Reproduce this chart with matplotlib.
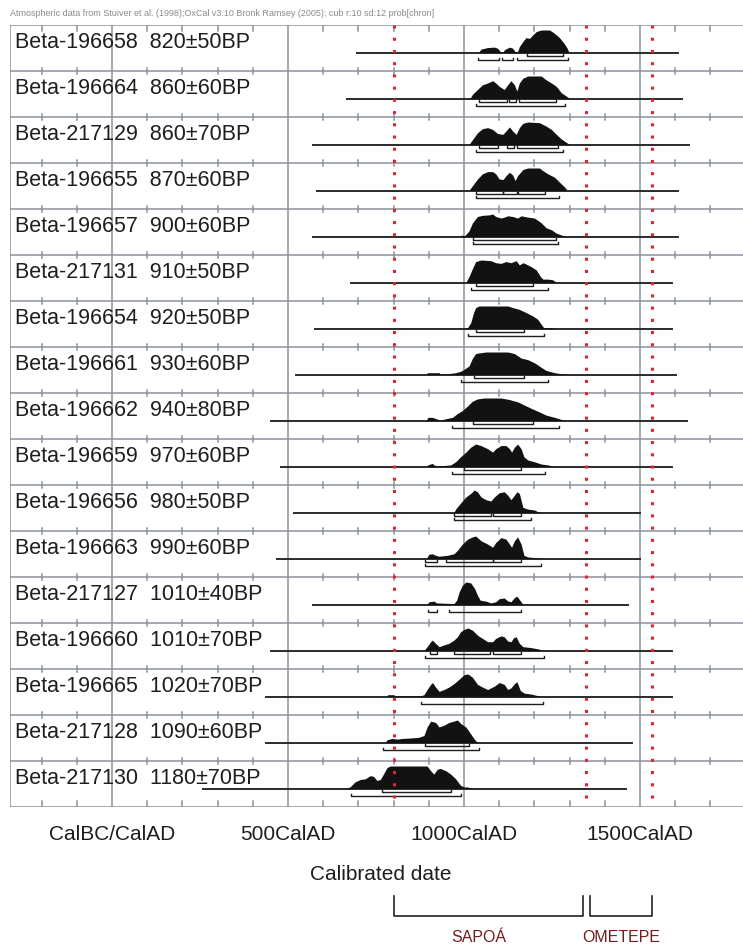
import numpy as np
import matplotlib.pyplot as plt
from matplotlib.transforms import blended_transform_factory

plt.rcParams['font.family'] = ['Liberation Sans', 'DejaVu Sans']

# sample labels
lab_ids = ["Beta-196658", "Beta-196664", "Beta-217129", "Beta-196655", "Beta-196657",
           "Beta-217131", "Beta-196654", "Beta-196661", "Beta-196662", "Beta-196659",
           "Beta-196656", "Beta-196663", "Beta-217127", "Beta-196660", "Beta-196665",
           "Beta-217128", "Beta-217130"]
bp_ages = ["820±50BP", "860±60BP", "860±70BP", "870±60BP", "900±60BP", "910±50BP",
           "920±50BP", "930±60BP", "940±80BP", "970±60BP", "980±50BP", "990±60BP",
           "1010±40BP", "1010±70BP", "1020±70BP", "1090±60BP", "1180±70BP"]

# extent of the thin line under each distribution (cal AD)
line_start = [696, 668, 571, 582, 571, 679, 577, 523, 452, 481, 517, 469, 571, 452, 438, 438, 258]
line_end = [1608, 1619, 1640, 1608, 1608, 1591, 1591, 1602, 1633, 1591, 1500, 1500, 1466, 1591, 1591, 1477, 1460]

# calibrated distributions (year, relative probability)
yr_1 = [1041, 1048, 1067, 1086, 1095, 1103, 1111, 1114, 1129, 1138, 1145, 1152, 1157, 1167, 1176, 1186, 1195, 1205, 1219, 1243, 1257, 1271, 1284, 1293, 1298]
p_1 = [0, .15, .22, .24, .19, .04, 0, .12, .24, .19, .04, .04, .26, .49, .66, .63, .78, .93, 1, 1, .85, .66, .41, .19, 0]
yr_2 = [1017, 1024, 1038, 1052, 1067, 1081, 1090, 1100, 1114, 1124, 1133, 1143, 1150, 1157, 1167, 1181, 1219, 1233, 1248, 1262, 1276, 1290, 1300]
p_2 = [0, .19, .4, .61, .69, .79, .69, .54, .4, .61, .79, .61, .33, .69, .9, 1, 1, .83, .69, .54, .26, .11, 0]
yr_3 = [1014, 1024, 1038, 1052, 1067, 1081, 1095, 1110, 1119, 1129, 1138, 1148, 1157, 1167, 1181, 1214, 1233, 1248, 1262, 1276, 1290, 1300]
p_3 = [0, .22, .52, .7, .75, .67, .49, .45, .6, .78, .6, .45, .75, .94, 1, .97, .82, .67, .45, .25, .1, 0]
yr_4 = [1014, 1024, 1038, 1052, 1067, 1081, 1090, 1100, 1111, 1119, 1129, 1138, 1145, 1152, 1167, 1181, 1214, 1224, 1238, 1257, 1271, 1286, 1293]
p_4 = [0, .22, .51, .74, .84, .84, .74, .51, .49, .66, .81, .69, .44, .66, .93, 1, 1, .88, .74, .59, .37, .15, 0]
yr_5 = [989, 992, 1002, 1014, 1024, 1038, 1052, 1071, 1081, 1090, 1105, 1114, 1124, 1138, 1152, 1162, 1181, 1200, 1219, 1233, 1248, 1262, 1276, 1290]
p_5 = [0, .06, .04, .25, .61, .89, .94, .96, 1, .89, .82, .86, .92, .89, .82, .92, .86, .82, .61, .39, .3, .15, .07, 0]
yr_6 = [1005, 1014, 1024, 1033, 1048, 1076, 1090, 1105, 1119, 1133, 1148, 1157, 1167, 1176, 1190, 1205, 1217, 1224, 1238, 1252, 1262]
p_6 = [0, .26, .63, .93, 1, .97, .88, .85, .93, .88, .97, .78, .88, .82, .71, .56, .26, .15, .15, .12, 0]
yr_7 = [992, 1010, 1019, 1027, 1033, 1043, 1124, 1138, 1157, 1176, 1195, 1209, 1219, 1226, 1238, 1267]
p_7 = [0, .04, .26, .71, .93, 1, 1, .93, .85, .71, .56, .41, .19, .04, .04, 0]
yr_8 = [894, 895, 929, 933, 952, 976, 990, 1002, 1014, 1024, 1033, 1043, 1062, 1100, 1124, 1143, 1162, 1181, 1200, 1219, 1233, 1257, 1290]
p_8 = [0, .08, .08, 0, .03, .08, .14, .25, .38, .73, .93, .96, 1, 1, 1, .93, .73, .66, .52, .32, .18, .08, 0]
yr_9 = [893, 897, 910, 924, 933, 943, 967, 981, 995, 1010, 1024, 1038, 1057, 1105, 1129, 1152, 1176, 1195, 1214, 1233, 1257, 1286]
p_9 = [0, .14, .14, .06, 0, .06, .14, .31, .44, .65, .86, .96, 1, 1, .93, .83, .65, .51, .38, .24, .14, 0]
yr_10 = [893, 897, 910, 914, 924, 933, 962, 976, 990, 1005, 1019, 1033, 1048, 1067, 1081, 1090, 1105, 1119, 1129, 1135, 1143, 1152, 1162, 1170, 1181, 1200, 1219, 1238, 1257]
p_10 = [0, .07, .14, .07, .03, .03, .07, .21, .43, .64, .86, 1, .93, .79, .64, .79, .93, .93, .79, .64, .86, 1, .79, .43, .29, .21, .11, .07, 0]
yr_11 = [971, 976, 990, 1005, 1019, 1029, 1038, 1048, 1062, 1076, 1086, 1100, 1114, 1124, 1133, 1143, 1150, 1157, 1167, 1181, 1200, 1214]
p_11 = [0, .15, .42, .69, .85, 1, .92, .69, .57, .51, .69, .88, .92, .77, .57, .77, .92, .85, .23, .15, .11, 0]
yr_12 = [893, 900, 910, 919, 929, 952, 971, 981, 995, 1010, 1024, 1033, 1048, 1067, 1081, 1090, 1105, 1119, 1129, 1135, 1143, 1152, 1162, 1170, 1181, 1200, 1219]
p_12 = [0, .19, .21, .14, .1, .14, .21, .36, .64, .86, .96, 1, .79, .64, .5, .71, .93, .86, .64, .5, .79, .96, .64, .14, .07, .04, 0]
yr_13 = [895, 900, 914, 922, 971, 979, 986, 995, 1005, 1019, 1030, 1038, 1046, 1062, 1076, 1090, 1100, 1114, 1124, 1133, 1143, 1150, 1160, 1167]
p_13 = [0, .12, .15, .07, .04, .19, .56, .85, 1, .96, .71, .41, .19, .15, .07, .12, .26, .29, .16, .12, .31, .37, .16, 0]
yr_14 = [886, 895, 905, 910, 919, 929, 943, 957, 971, 981, 990, 1000, 1011, 1024, 1038, 1052, 1067, 1081, 1090, 1105, 1114, 1124, 1133, 1141, 1148, 1157, 1167, 1190, 1214, 1219]
p_14 = [0, .17, .39, .46, .32, .17, .25, .32, .46, .61, .83, .94, 1, .9, .68, .54, .39, .39, .54, .65, .61, .42, .39, .57, .61, .32, .17, .13, .06, 0]
yr_15 = [781, 783, 800, 805, 876, 886, 895, 905, 910, 919, 929, 943, 957, 971, 986, 1000, 1011, 1024, 1038, 1052, 1067, 1086, 1100, 1114, 1124, 1133, 1143, 1150, 1160, 1171, 1190, 1219]
p_15 = [0, .08, .08, .03, .03, .08, .31, .54, .62, .42, .23, .31, .42, .57, .77, .97, 1, .85, .54, .42, .31, .46, .62, .54, .31, .38, .57, .66, .26, .15, .11, 0]
yr_16 = [776, 781, 795, 810, 824, 848, 871, 886, 895, 905, 919, 929, 943, 957, 971, 981, 990, 1005, 1019, 1029, 1038]
p_16 = [0, .12, .18, .15, .18, .2, .23, .31, .69, .95, .89, .69, .77, .89, .95, 1, .85, .69, .38, .15, 0]
yr_17 = [662, 676, 690, 705, 719, 733, 743, 752, 762, 771, 781, 790, 895, 905, 914, 924, 933, 948, 962, 976, 990, 1000, 1010, 1024]
p_17 = [0, .07, .29, .4, .43, .57, .54, .36, .4, .64, .93, 1, 1, .79, .64, .86, .89, .79, .64, .43, .14, .07, .07, 0]

# 68.2% and 95.4% ranges
sig68 = [[(1179, 1281)], [(1043, 1121), (1127, 1148), (1155, 1262)], [(1043, 1095), (1121, 1143), (1150, 1267)],
         [(1033, 1110), (1112, 1150), (1152, 1230)], [(1024, 1262)], [(1033, 1195)], [(1033, 1171)],
         [(1029, 1171)], [(1024, 1195)], [(1000, 1162)], [(971, 1076), (1081, 1162)],
         [(890, 924), (948, 1081), (1081, 1162)], [], [(902, 922), (971, 1074), (1083, 1162)], [],
         [(890, 1014)], [(767, 962)]]
sig95 = [[(1040, 1100), (1108, 1139), (1151, 1295)], [(1033, 1286)], [(1033, 1281)], [(1033, 1271)],
         [(1024, 1267)], [(1021, 1238)], [(1012, 1226)], [(992, 1238)], [(967, 1271)], [(967, 1229)],
         [(971, 1190)], [(890, 1219)], [(898, 922), (957, 1162)], [(890, 1227)], [(878, 1225)],
         [(770, 1041)], [(678, 992)]]

# phase boundaries and names
phase_lines = [800, 1345, 1535]
phases = ["SAPOÁ", "OMETEPE"]
phase_spans = [(800, 1338), (1358, 1534)]
phase_label_x = [1043, 1446]

curves = [(yr_1, p_1), (yr_2, p_2), (yr_3, p_3), (yr_4, p_4), (yr_5, p_5), (yr_6, p_6),
          (yr_7, p_7), (yr_8, p_8), (yr_9, p_9), (yr_10, p_10), (yr_11, p_11), (yr_12, p_12),
          (yr_13, p_13), (yr_14, p_14), (yr_15, p_15), (yr_16, p_16), (yr_17, p_17)]

W, H = 743, 948
fig = plt.figure(figsize=(W / 100, H / 100), dpi=100)
ax = fig.add_axes([10 / W, 1 - 807 / H, (752 - 10) / W, (807 - 25) / H])
n = len(lab_ids)
ax.set_xlim(-290, 1818)
ax.set_ylim(0, n)
rowpx = (807 - 25) / n
px = 1.0 / rowpx

grid = '#8a929a'
ink = '#1e1e1e'
for s in ax.spines.values():
    s.set_visible(False)

# frame, separators, major grid
for k in range(n + 1):
    ax.axhline(k, color=grid, lw=1.1, zorder=1)
ax.axvline(-290, color=grid, lw=1.1, zorder=1)
for x in [0, 500, 1000, 1500]:
    ax.axvline(x, color=grid, lw=1.1, zorder=1)
# minor ticks every 100 years
for x in range(-200, 1900, 100):
    if x % 500 == 0:
        continue
    for k in range(n + 1):
        lo, hi = k - 3 * px, k + 3 * px
        if k == 0:
            lo, hi = k, k + 6 * px
        if k == n:
            lo, hi = k - 6 * px, k
        ax.plot([x, x], [lo, hi], color=grid, lw=1.1, zorder=1)

# red phase boundaries
for x in phase_lines:
    ax.plot([x, x], [n, 0], color='#e3242f', lw=2.2, ls=(0, (1, 3)),
            dash_capstyle='butt', zorder=5)

# rows
for i in range(n):
    top = n - i
    base = top - 27.5 * px
    yrs, p = curves[i]
    ax.plot([line_start[i], line_end[i]], [base, base], color='#2a2a2a', lw=1.4, zorder=3)
    ax.fill_between(yrs, base, base + 22.5 * px * np.array(p), color='#121212', lw=0, zorder=4)
    for ranges, off in [(sig68[i], 3.5), (sig95[i], 7)]:
        yy = base - off * px
        for a, b in ranges:
            ax.plot([a, a, b, b], [yy + 2 * px, yy, yy, yy + 2 * px], color=ink, lw=1.0, zorder=4)
    ax.text(-276, top - 17 * px, lab_ids[i] + "  " + bp_ages[i], fontsize=15.5,
            va='center', ha='left', color=ink, zorder=6)

ax.set_yticks([])
ax.set_xticks([0, 500, 1000, 1500], ["CalBC/CalAD", "500CalAD", "1000CalAD", "1500CalAD"])
ax.tick_params(axis='x', length=0, pad=13, labelsize=15, labelcolor=ink)
ax.set_xlabel("Calibrated date", fontsize=15, color=ink, labelpad=15)

fig.text(10 / W, 1 - 13 / H,
         "Atmospheric data from Stuiver et al. (1998);OxCal v3.10 Bronk Ramsey (2005); cub r:10 sd:12 prob[chron]",
         fontsize=6.5, color='#8a8a8a', va='center', ha='left')

# phase brackets below the axis
tr = blended_transform_factory(ax.transData, fig.transFigure)
yt, yb = 1 - 896 / H, 1 - 916 / H
for (a, b), name, lx in zip(phase_spans, phases, phase_label_x):
    ax.plot([a, a, b, b], [yt, yb, yb, yt], color='#222222', lw=1.2, transform=tr, clip_on=False)
    ax.text(lx, 1 - 938 / H, name, transform=tr, ha='center', va='center',
            fontsize=11.5, color='#741c1c')

fig.savefig("out.png", dpi=100)
